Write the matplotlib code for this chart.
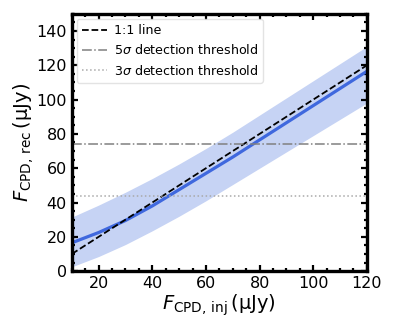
import numpy as np
import matplotlib
matplotlib.use('Agg')
import matplotlib.pyplot as plt
from matplotlib.ticker import MultipleLocator

# injected flux grid and recovered flux (median + band)
f_inj = [10, 20, 30, 40, 50, 60, 70, 80, 90, 100, 110, 120]
f_rec = [16.5, 22.5, 29.5, 38, 47.5, 57, 66.5, 76.5, 86.5, 96.5, 106.5, 116.5]
f_rec_lo = [2.5, 8.5, 15.5, 23.5, 32, 41, 50.5, 60, 69.5, 79, 88.5, 98]
f_rec_hi = [31.5, 38.5, 46, 54, 62.5, 71.5, 81, 91, 101, 111, 121, 131]
one_to_one = [10, 120]
thr_5sig = 74
thr_3sig = 44

fig = plt.figure(figsize=(3.97, 3.31), dpi=100)
ax = fig.add_axes([0.181, 0.181, 0.743, 0.777])

ax.fill_between(f_inj, f_rec_lo, f_rec_hi, color='#c6d3f4', lw=0)
ax.plot(f_inj, f_rec, color='#3f68de', lw=2.3)
ax.plot(one_to_one, one_to_one, 'k--', lw=1.3, label='1:1 line')
ax.axhline(thr_5sig, color='gray', ls='-.', lw=1.1, label=r'5$\sigma$ detection threshold')
ax.axhline(thr_3sig, color='darkgray', ls=':', lw=1.1, label=r'3$\sigma$ detection threshold')

ax.set_xlim(10, 120)
ax.set_ylim(0, 150)
ax.xaxis.set_major_locator(MultipleLocator(20))
ax.xaxis.set_minor_locator(MultipleLocator(5))
ax.yaxis.set_major_locator(MultipleLocator(20))
ax.yaxis.set_minor_locator(MultipleLocator(5))
ax.tick_params(which='both', direction='in', top=True, right=True, labelsize=11.5)
ax.tick_params(which='major', length=4.5, width=1.6)
ax.tick_params(which='minor', length=2.5, width=1.6)
for s in ax.spines.values():
    s.set_linewidth(2.4)

ax.set_xlabel(r'$F_{\rm CPD,\,inj}\,$' + '(μJy)', fontsize=14, labelpad=1)
ax.set_ylabel(r'$F_{\rm CPD,\,rec}\,$' + '(μJy)', fontsize=14, labelpad=0)

leg = ax.legend(loc='upper left', fontsize=9.1, frameon=True, handlelength=2.0,
                handletextpad=0.5, borderaxespad=0.4)
leg.get_frame().set_edgecolor('#dddddd')

fig.savefig('out.png', dpi=100)
